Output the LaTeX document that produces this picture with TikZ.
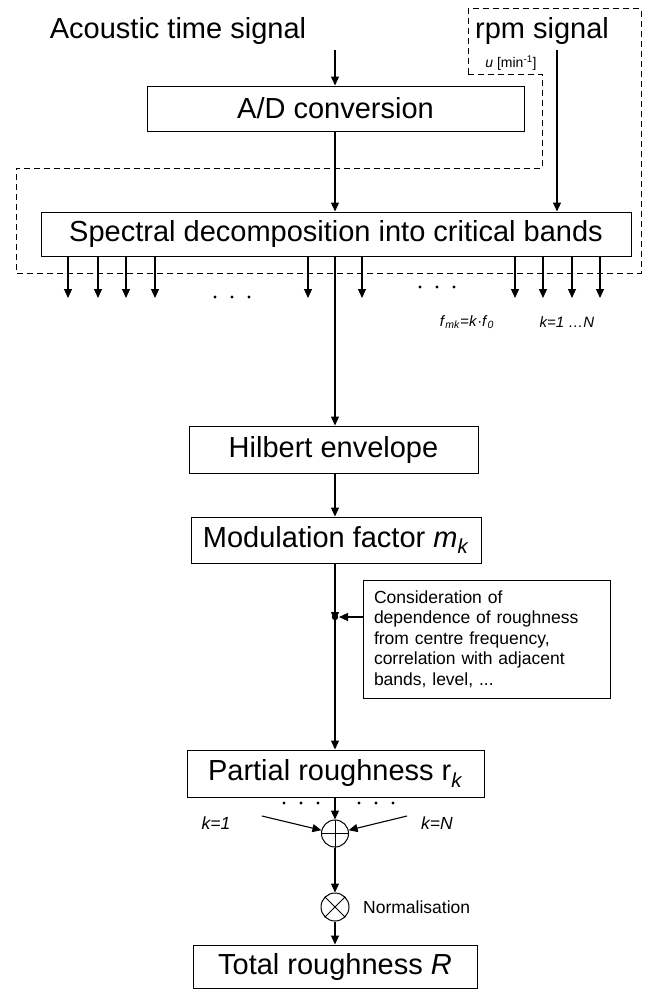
\documentclass[tikz,border=0pt]{standalone}
\usepackage{fontspec}
\setmainfont{Liberation Sans}
\usetikzlibrary{arrows.meta}

\begin{document}
\begin{tikzpicture}[x=1pt,y=-1pt,
    box/.style={draw, line width=1pt, inner sep=0pt, font=\fontsize{29}{34}\selectfont},
    arr/.style={-{Triangle[length=9pt,width=8pt]}, line width=1.1pt},
    lbl/.style={inner sep=0pt, font=\fontsize{17.5}{20.5}\selectfont},
    tiny/.style={inner sep=0pt, font=\fontsize{14}{16}\selectfont}]
  \useasboundingbox (0,0) rectangle (648,990);
  % Inputs
  \node[inner sep=0pt, font=\fontsize{29}{34}\selectfont, anchor=base] (ats) at (178,38) {Acoustic time signal};
  \node[inner sep=0pt, font=\fontsize{29}{34}\selectfont, anchor=base] (rpm) at (542,38) {rpm signal};
  \node[tiny] (u) at (511,63) {\textit{u} [min\textsuperscript{-1}]};
  \coordinate (atsout) at (335,50);
  \coordinate (rpmout) at (557,50);
  % Boxes
  \node[box, minimum width=377pt, minimum height=45pt] (ad) at (335.5,108.5) {A/D conversion};
  \node[box, minimum width=590pt, minimum height=44pt] (spec) at (336,234) {Spectral decomposition into critical bands};
  \node[box, minimum width=289pt, minimum height=47pt] (hil) at (333.5,449.5) {Hilbert envelope};
  \node[box, minimum width=290pt, minimum height=46pt] (mod) at (336,540) {Modulation factor \textit{m}\textsubscript{\textit{k}}};
  \node[box, lbl, inner xsep=11pt, text width=225pt, minimum height=118pt, align=left] (note) at (486.5,639)
    {Consideration of\\dependence of roughness\\from centre frequency,\\correlation with adjacent\\bands, level, ...};
  \node[box, minimum width=297pt, minimum height=47pt] (part) at (335.5,773.5) {Partial roughness r\textsubscript{\textit{k}}};
  \node[box, minimum width=284pt, minimum height=43pt] (tot) at (335,966.5) {Total roughness \textit{R}};
  % Sum and product
  \node[draw, circle, line width=1pt, minimum size=27pt, inner sep=0pt] (sum) at (335,833.5) {};
  \draw[line width=1pt] (sum.north) -- (sum.south) (sum.west) -- (sum.east);
  \node[draw, circle, line width=1pt, minimum size=28pt, inner sep=0pt] (norm) at (335,907) {};
  \draw[line width=1pt] (norm.north west) -- (norm.south east) (norm.north east) -- (norm.south west);
  \node[lbl, anchor=west] (normlbl) at (363,907) {Normalisation};
  % rpm loop
  \draw[dashed, dash pattern=on 6pt off 4pt, line width=1pt]
    (468,74) -- (542,74) -- (542,168) -- (16,168) -- (16,273) -- (641,273) -- (641,9) -- (468,9) -- cycle;
  % Signal path (main axis at x=335)
  \coordinate (j) at (335,617);
  \draw[arr] (atsout) -- (atsout |- ad.north);
  \draw[arr] (rpmout) -- (rpmout |- spec.north);
  \draw[arr] (ad.south -| j) -- (spec.north -| j);
  \draw[arr] (spec.south -| j) -- (hil.north -| j);
  \draw[arr] (hil.south -| j) -- (mod.north -| j);
  \draw[arr] (mod.south -| j) -- ([yshift=-4pt]j);
  \draw[arr] (note.west |- j) -- ([xshift=4pt]j);
  \fill (j) circle (3.2pt);
  \draw[arr] (j) -- (j |- part.north);
  \draw[arr] (part.south -| j) -- (sum.north);
  \coordinate (k1) at (262,816);
  \coordinate (kN) at (407,816);
  \draw[arr] (k1) -- (sum);
  \draw[arr] (kN) -- (sum);
  \draw[arr] (sum.south) -- (norm.north);
  \draw[arr] (norm.south) -- (tot.north -| j);
  % Critical band outputs
  \foreach \x in {68,98,126,155,308,362,515,543,572,600}
    \draw[arr] (spec.south -| \x,0) -- (\x,298);
  \foreach \x in {215,232,249} \fill (\x,297) circle (1.6pt);
  \foreach \x in {420,437,454} \fill (\x,287) circle (1.6pt);
  \foreach \x in {284,301,318,359,376,393} \fill (\x,803) circle (1.6pt);
  % Labels
  \node[lbl, font=\fontsize{15}{17}\selectfont] (fmk) at (467,322) {\textit{f}\textsubscript{\textit{mk}}=\textit{k}·\textit{f}\textsubscript{\textit{0}}};
  \node[lbl, font=\fontsize{15}{17}\selectfont] (krange) at (567,322) {\textit{k=1 …N}};
  \node[lbl] (k1lbl) at (216,823) {\textit{k=1}};
  \node[lbl] (kNlbl) at (437,823) {\textit{k=N}};
\end{tikzpicture}
\end{document}
